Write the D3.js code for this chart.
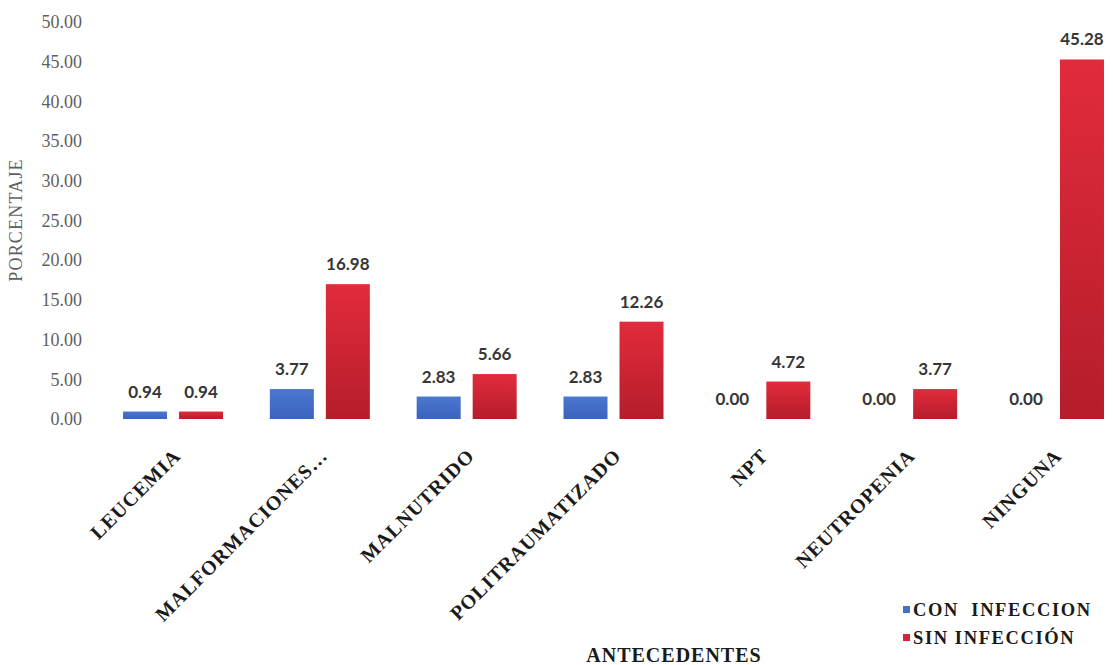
<!DOCTYPE html>
<html>
<head>
<meta charset="utf-8">
<script src="https://cdn.jsdelivr.net/npm/d3@7"></script>
<style>
  html, body { margin: 0; padding: 0; background: #ffffff; }
  svg { display: block; }
  text { white-space: pre; }
</style>
</head>
<body>
<svg id="chart" width="1113" height="665"></svg>
<script>
// Antecedentes por grupo (porcentaje)
const categories = ["LEUCEMIA", "MALFORMACIONES…", "MALNUTRIDO", "POLITRAUMATIZADO", "NPT", "NEUTROPENIA", "NINGUNA"];
const series = ["CON  INFECCION", "SIN INFECCIÓN"];
const conInfeccion = [0.94, 3.77, 2.83, 2.83, 0.00, 0.00, 0.00];
const sinInfeccion = [0.94, 16.98, 5.66, 12.26, 4.72, 3.77, 45.28];
const yTicks = [0, 5, 10, 15, 20, 25, 30, 35, 40, 45, 50];

const svg = d3.select("#chart");

const serif = "'Liberation Serif', 'Times New Roman', serif";
const sans = "Lato, 'Open Sans', sans-serif";

// Gradients for the bars
const defs = svg.append("defs");
function vGrad(id, top, bottom) {
  const g = defs.append("linearGradient").attr("id", id)
    .attr("x1", 0).attr("y1", 0).attr("x2", 0).attr("y2", 1);
  g.append("stop").attr("offset", "0%").attr("stop-color", top);
  g.append("stop").attr("offset", "100%").attr("stop-color", bottom);
}
vGrad("gBlue", "#4b77cf", "#3a63bd");
vGrad("gRed", "#e22b3c", "#b51d2b");
const fills = ["url(#gBlue)", "url(#gRed)"];
const legendColors = ["#4472c4", "#d3263a"];

// Scales
const y = d3.scaleLinear().domain([0, 50]).range([419, 22]);
const x0 = d3.scaleBand().domain(categories).range([99.6, 1127.4]).padding(0);
const groupW = 100;
const x1 = d3.scaleBand().domain(series)
  .range([(x0.step() - groupW) / 2, (x0.step() + groupW) / 2])
  .paddingInner(12 / 56);

const rows = categories.map((c, i) => ({
  cat: c,
  values: [conInfeccion[i], sinInfeccion[i]]
}));

// Y axis (labels only)
const yAxis = d3.axisLeft(y).tickValues(yTicks).tickFormat(d3.format(".2f")).tickSize(0).tickPadding(0);
const yg = svg.append("g").attr("transform", "translate(82,0)").call(yAxis);
yg.select(".domain").remove();
yg.selectAll("text")
  .attr("font-family", serif).attr("font-size", 18).attr("fill", "#5f5f5f");

// Bars
const groups = svg.append("g").selectAll("g").data(rows).join("g")
  .attr("transform", d => `translate(${x0(d.cat)},0)`);

groups.selectAll("rect").data(d => d.values.map((v, k) => ({ v, k })))
  .join("rect")
  .attr("x", d => x1(series[d.k]))
  .attr("width", x1.bandwidth())
  .attr("y", d => y(d.v))
  .attr("height", d => y(0) - y(d.v))
  .attr("fill", d => fills[d.k]);

// Value labels
groups.selectAll("text.val").data(d => d.values.map((v, k) => ({ v, k })))
  .join("text").attr("class", "val")
  .attr("x", d => x1(series[d.k]) + x1.bandwidth() / 2)
  .attr("y", d => y(d.v) - 14)
  .attr("text-anchor", "middle")
  .attr("font-family", sans).attr("font-weight", 700).attr("font-size", 17)
  .attr("fill", "#363636")
  .text(d => d3.format(".2f")(d.v));

// Category labels, rotated
svg.append("g").selectAll("text").data(categories).join("text")
  .attr("transform", d => `translate(${x0(d) + x0.step() / 2 + 9},457) rotate(-45)`)
  .attr("text-anchor", "end")
  .attr("font-family", serif).attr("font-weight", 700).attr("font-size", 20)
  .attr("letter-spacing", 1)
  .attr("fill", "#1a1a1a")
  .text(d => d);

// Axis titles
svg.append("text")
  .attr("transform", "translate(22,220) rotate(-90)")
  .attr("text-anchor", "middle")
  .attr("font-family", serif).attr("font-size", 18).attr("letter-spacing", 1.2)
  .attr("fill", "#5f5f5f")
  .text("PORCENTAJE");

svg.append("text")
  .attr("x", 674).attr("y", 662)
  .attr("text-anchor", "middle")
  .attr("font-family", serif).attr("font-weight", 700).attr("font-size", 20)
  .attr("letter-spacing", 1)
  .attr("fill", "#1a1a1a")
  .text("ANTECEDENTES");

// Legend
const lg = svg.append("g").attr("transform", "translate(903,0)");
const items = lg.selectAll("g").data(series).join("g")
  .attr("transform", (d, i) => `translate(0,${610 + i * 28})`);
items.append("rect").attr("x", 0).attr("y", -4).attr("width", 7).attr("height", 7)
  .attr("fill", (d, i) => legendColors[i]);
items.append("text").attr("x", 10).attr("y", 6)
  .attr("font-family", serif).attr("font-weight", 700).attr("font-size", 18.5)
  .attr("letter-spacing", 1.6)
  .attr("fill", "#1a1a1a")
  .text(d => d);
</script>
</body>
</html>
